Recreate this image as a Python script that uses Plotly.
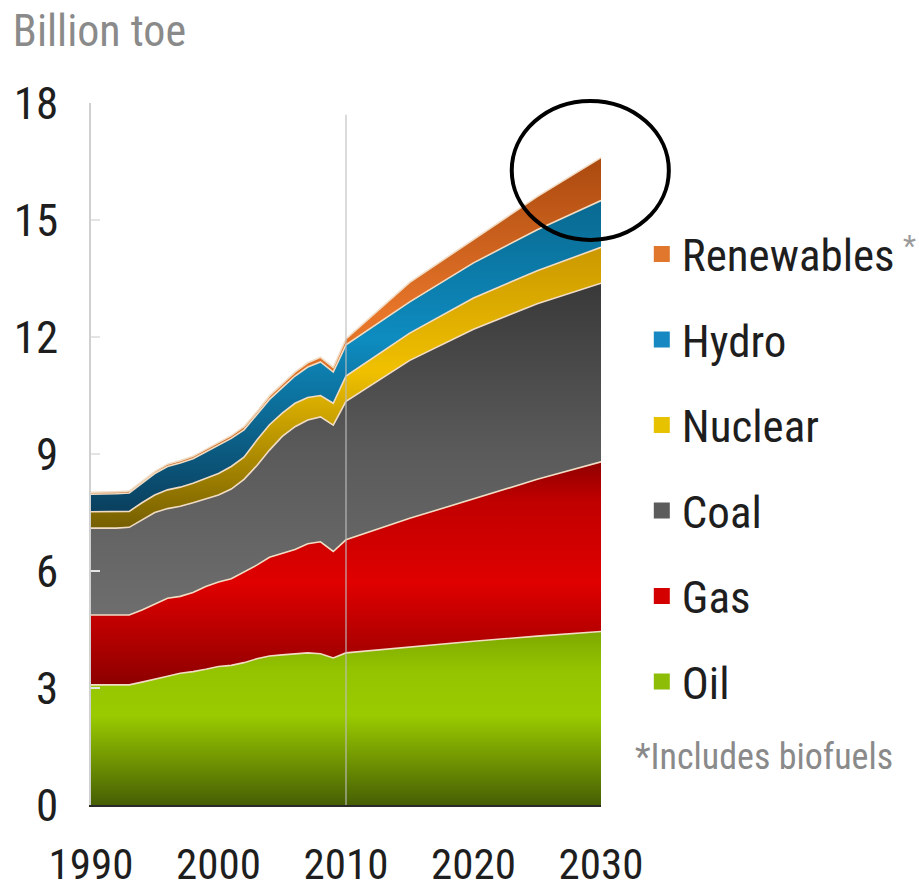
import plotly.graph_objects as go

# ---------------- data (billion toe) ----------------
years = [1990, 1991, 1992, 1993, 1994, 1995, 1996, 1997, 1998, 1999,
         2000, 2001, 2002, 2003, 2004, 2005, 2006, 2007, 2008, 2009,
         2010, 2015, 2020, 2025, 2030]

oil = [3.08, 3.08, 3.08, 3.08, 3.15, 3.22, 3.30, 3.38, 3.42, 3.48,
       3.55, 3.58, 3.65, 3.75, 3.82, 3.85, 3.88, 3.90, 3.88, 3.77,
       3.90, 4.05, 4.20, 4.33, 4.45]
gas = [1.79, 1.79, 1.79, 1.79, 1.85, 1.93, 2.00, 1.97, 2.03, 2.12,
       2.17, 2.22, 2.32, 2.40, 2.53, 2.60, 2.67, 2.80, 2.87, 2.73,
       2.90, 3.30, 3.65, 4.02, 4.35]
coal = [2.23, 2.23, 2.23, 2.25, 2.30, 2.35, 2.30, 2.31, 2.30, 2.25,
        2.23, 2.30, 2.38, 2.55, 2.75, 3.00, 3.15, 3.17, 3.20, 3.24,
        3.55, 4.05, 4.35, 4.50, 4.58]
nuclear = [0.42, 0.42, 0.42, 0.41, 0.45, 0.45, 0.48, 0.49, 0.50, 0.53,
           0.55, 0.58, 0.57, 0.65, 0.65, 0.60, 0.60, 0.58, 0.55, 0.56,
           0.65, 0.70, 0.80, 0.85, 0.92]
hydro = [0.45, 0.45, 0.46, 0.47, 0.50, 0.55, 0.60, 0.62, 0.63, 0.67,
         0.72, 0.72, 0.70, 0.65, 0.65, 0.65, 0.70, 0.78, 0.86, 0.80,
         0.80, 0.80, 0.90, 1.05, 1.20]
renewables = [0.05, 0.05, 0.05, 0.05, 0.05, 0.05, 0.06, 0.06, 0.06, 0.07,
              0.07, 0.07, 0.08, 0.08, 0.09, 0.09, 0.10, 0.11, 0.12, 0.12,
              0.15, 0.50, 0.60, 0.85, 1.10]

series_names = ["Oil", "Gas", "Coal", "Nuclear", "Hydro", "Renewables"]
x_ticks = [1990, 2000, 2010, 2020, 2030]
y_ticks = [0, 3, 6, 9, 12, 15, 18]

# ---------------- styling ----------------
FONT = "Roboto Condensed, Roboto, sans-serif"
gradients = {
    "Oil": (0, 4.6, [[0, "#465f04"], [0.5, "#9acb00"], [0.75, "#94c400"], [1, "#7aa400"]]),
    "Gas": (3.0, 9.0, [[0, "#8a0000"], [0.45, "#e00000"], [0.8, "#c00000"], [1, "#860000"]]),
    "Coal": (4.8, 13.5, [[0, "#6e6e6e"], [0.5, "#5a5a5a"], [1, "#383838"]]),
    "Nuclear": (7.0, 14.5, [[0, "#725c00"], [0.55, "#f0c000"], [1, "#c89600"]]),
    "Hydro": (7.5, 15.6, [[0, "#0a3f5e"], [0.55, "#0e8cc0"], [1, "#09688f"]]),
    "Renewables": (7.5, 16.7, [[0, "#c06018"], [0.55, "#e8762a"], [1, "#a9480e"]]),
}
legend_colors = {"Oil": "#8dbd06", "Gas": "#d40000", "Coal": "#5c5c5c",
                 "Nuclear": "#e6c200", "Hydro": "#1788c2", "Renewables": "#e0772c"}
values = {"Oil": oil, "Gas": gas, "Coal": coal, "Nuclear": nuclear,
          "Hydro": hydro, "Renewables": renewables}

fig = go.Figure()
for name in series_names:
    s0, s1, cs = gradients[name]
    fig.add_trace(go.Scatter(
        x=years, y=values[name], name=name, stackgroup="one", mode="lines",
        line=dict(color="#f1dcc4", width=1.6, shape="linear"),
        fillgradient=dict(type="vertical", colorscale=cs, start=s0, stop=s1),
        showlegend=False, hoverinfo="skip"))

# legend entries (Renewables on top)
for name in reversed(series_names):
    fig.add_trace(go.Scatter(
        x=[None], y=[None], mode="markers", name=name, legendgroup=name,
        marker=dict(symbol="square", size=16, color=legend_colors[name]),
        showlegend=True))

fig.update_layout(
    width=919, height=893,
    margin=dict(l=91, r=318, t=103, b=88, autoexpand=False),
    paper_bgcolor="white", plot_bgcolor="white",
    font=dict(family=FONT, color="#222"),
    showlegend=True,
    legend=dict(x=1.08, y=0.836, xanchor="left", yanchor="top",
                font=dict(family=FONT, size=45, color="#1e1e1e"),
                tracegroupgap=24, itemsizing="trace",
                bgcolor="rgba(0,0,0,0)", traceorder="grouped"),
    title=dict(text="Billion toe", x=0.014, xanchor="left", y=0.983,
               yanchor="top", font=dict(family=FONT, size=44, color="#8a8a8a")),
    xaxis=dict(range=[1990, 2030], tickvals=x_ticks, ticktext=[str(v) for v in x_ticks],
               showgrid=False, zeroline=False, showline=True, linecolor="#2a2a2a",
               linewidth=2, ticks="", tickfont=dict(family=FONT, size=43, color="#1e1e1e"),
               ticklabelstandoff=20),
    yaxis=dict(range=[0, 18], tickvals=y_ticks, showgrid=False, zeroline=False,
               showline=True, linecolor="#d0d0d0", linewidth=1.5, ticks="inside",
               ticklen=9, tickcolor="#e4e4e4", tickwidth=1.5,
               tickfont=dict(family=FONT, size=45, color="#1e1e1e"),
               ticklabelstandoff=22),
    annotations=[
        dict(text="*Includes biofuels", xref="paper", yref="paper",
             x=1.062, y=0.068, xanchor="left", yanchor="middle", showarrow=False,
             font=dict(family=FONT, size=36, color="#8a8a8a")),
        dict(text="*", xref="paper", yref="paper", x=1.588, y=0.797,
             xanchor="left", yanchor="middle", showarrow=False,
             font=dict(family=FONT, size=30, color="#9a9a9a")),
    ],
    shapes=[
        dict(type="line", xref="x", yref="y", x0=2010, x1=2010, y0=0, y1=17.7,
             line=dict(color="rgba(190,190,190,0.75)", width=1.5), layer="above"),
        dict(type="circle", xref="paper", yref="paper", x0=0.825, x1=1.133,
             y0=0.805, y1=1.003, line=dict(color="black", width=4), layer="above"),
    ],
)

fig.write_html("out.html")
